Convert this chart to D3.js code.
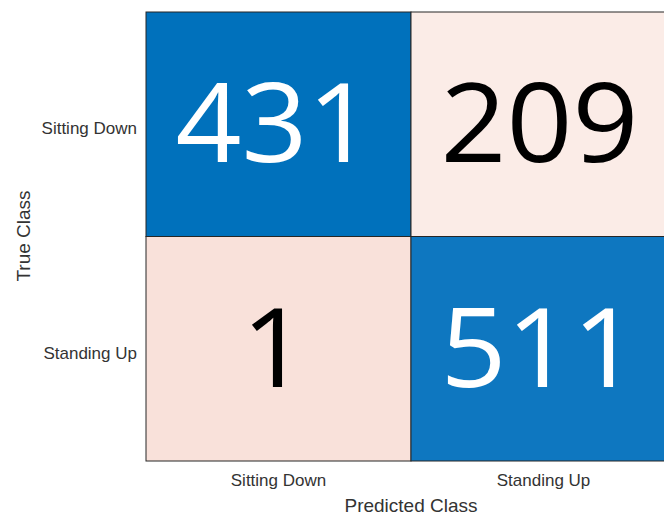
<!DOCTYPE html>
<html><head><meta charset="utf-8">
<script src="https://cdn.jsdelivr.net/npm/d3@7"></script>
<style>body{margin:0;background:#fff}svg{display:block}</style>
</head><body>
<svg id="c" width="664" height="515"></svg>
<script>
const classes = ["Sitting Down", "Standing Up"];
const counts = [[431, 209], [1, 511]];
const cellColors = [["#0071BC", "#FBECE7"], ["#F9E1DA", "#0E77C0"]];
const textColors = [["#ffffff", "#000000"], ["#000000", "#ffffff"]];

(function () {
const svg = d3.select("#c");
const mLeft = 146, mTop = 12, cw = 265, mBottom = 461;
const x = d3.scaleBand().domain(classes).range([mLeft, mLeft + 2 * cw]);
const y = d3.scaleBand().domain(classes).range([mTop, mBottom]);

const cells = [];
classes.forEach((t, i) => classes.forEach((p, j) => cells.push({t, p, v: counts[i][j], fill: cellColors[i][j], tc: textColors[i][j]})));

svg.selectAll("rect.cell").data(cells).join("rect")
  .attr("x", d => x(d.p)).attr("y", d => y(d.t))
  .attr("width", x.bandwidth()).attr("height", y.bandwidth())
  .attr("fill", d => d.fill).attr("stroke", "#262626").attr("stroke-width", 1);

svg.selectAll("text.num").data(cells).join("text")
  .attr("transform", d => `translate(${x(d.p) + x.bandwidth() / 2 - 4},${y(d.t) + y.bandwidth() / 2 + 38}) scale(1.06,1)`)
  .attr("text-anchor", "middle")
  .attr("font-family", "Open Sans").attr("font-size", 109)
  .attr("fill", d => d.tc).text(d => d.v);

const xAxis = svg.append("g").attr("transform", `translate(0,${mBottom})`)
  .call(d3.axisBottom(x).tickSize(0).tickPadding(13));
xAxis.select(".domain").remove();
xAxis.selectAll("text").attr("font-family", "Liberation Sans").attr("font-size", 17).attr("fill", "#333");

const yAxis = svg.append("g").attr("transform", `translate(${mLeft},0)`)
  .call(d3.axisLeft(y).tickSize(0).tickPadding(9));
yAxis.select(".domain").remove();
yAxis.selectAll("text").attr("font-family", "Liberation Sans").attr("font-size", 17).attr("fill", "#333")
  .attr("dy", "0.6em");

svg.append("text").attr("x", 411).attr("y", 512).attr("text-anchor", "middle")
  .attr("font-family", "Liberation Sans").attr("font-size", 19).attr("fill", "#333").text("Predicted Class");
svg.append("text").attr("transform", "translate(30,236) rotate(-90)").attr("text-anchor", "middle")
  .attr("font-family", "Liberation Sans").attr("font-size", 19).attr("fill", "#333").text("True Class");
})();
</script>
</body></html>
